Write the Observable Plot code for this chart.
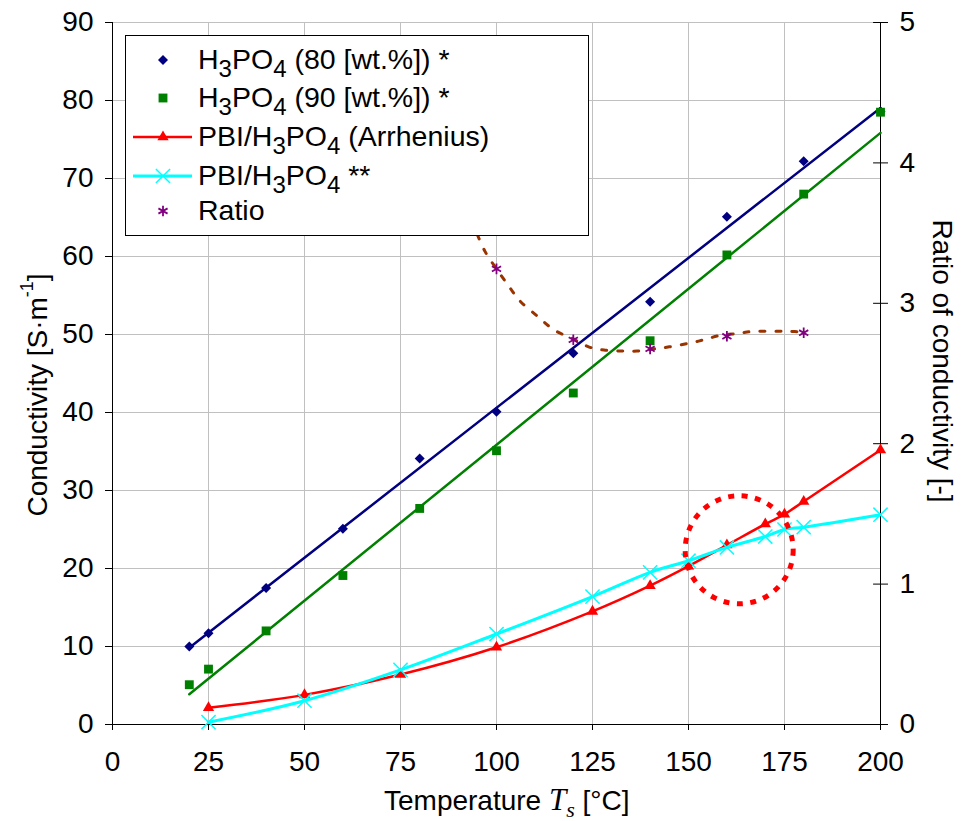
<!DOCTYPE html>
<html><head><meta charset="utf-8">
<script src="https://cdn.jsdelivr.net/npm/d3@7"></script>
<script src="https://cdn.jsdelivr.net/npm/@observablehq/plot@0.6"></script>
<style>body{margin:0;background:#fff;} #chart{width:963px;height:821px;}</style>
</head><body><div id="chart"></div>
<script>
// ---- data ----
const xTicks = [0, 25, 50, 75, 100, 125, 150, 175, 200];
const yTicks = [0, 10, 20, 30, 40, 50, 60, 70, 80, 90];
const ratioTicks = [0, 1, 2, 3, 4, 5];

const tempAcid = [20, 25, 40, 60, 80, 100, 120, 140, 160, 180, 200];
const cond80 = [10, 11.7, 17.5, 25.1, 34.1, 40.1, 47.6, 54.2, 65.1, 72.2, 78.6];
const cond90 = [5.1, 7.1, 12.0, 19.1, 27.7, 35.1, 42.5, 49.2, 60.2, 68.0, 78.5];

const tempPBI = [25, 50, 75, 100, 125, 140, 150, 160, 170, 175, 180, 200];
const condArrhenius = [2.15, 3.8, 6.4, 9.9, 14.5, 17.8, 20.3, 23.0, 25.7, 26.95, 28.6, 35.2];
const condPBI = [0.3, 3.05, 7.0, 11.6, 16.4, 19.5, 21.0, 22.7, 24.1, 25.0, 25.3, 26.9];

const tempRatio = [100, 120, 140, 160, 180];
const ratioValues = [3.245, 2.74, 2.675, 2.765, 2.79];

const trendTemp = [95, 97, 100, 103, 106, 111, 115, 120, 124, 128, 132.5, 136.6, 141, 145, 150, 154, 158, 163, 167, 172, 176, 180];
const trendRatio = [3.49, 3.37, 3.245, 3.13, 3.02, 2.90, 2.81, 2.746, 2.69, 2.667, 2.66, 2.66, 2.675, 2.69, 2.715, 2.74, 2.77, 2.786, 2.80, 2.80, 2.80, 2.795];

const highlight = [{t: 163.2, c: 22.4}];

const legendLabels = [
  ["H", "_3", "PO", "_4", " (80 [wt.%]) *"],
  ["H", "_3", "PO", "_4", " (90 [wt.%]) *"],
  ["PBI/H", "_3", "PO", "_4", " (Arrhenius)"],
  ["PBI/H", "_3", "PO", "_4", " **"],
  ["Ratio"]
];

// ---- build ----
const RATIO_SCALE = 90 / 5;
const acid80 = tempAcid.map((t, i) => ({t, c: cond80[i]}));
const acid90 = tempAcid.map((t, i) => ({t, c: cond90[i]}));
const arr = tempPBI.map((t, i) => ({t, c: condArrhenius[i]}));
const pbi = tempPBI.map((t, i) => ({t, c: condPBI[i]}));
const ratio = tempRatio.map((t, i) => ({t, r: ratioValues[i]}));
const trend = trendTemp.map((t, i) => ({t, r: trendRatio[i]}));

const NAVY = "#000080", GREEN = "#008000", RED = "#ff0000", CYAN = "#00ffff", PURPLE = "#800080", BROWN = "#993300";
const FONT = "'Liberation Sans', Arial, sans-serif";
const R = {dia: 4, sq: 5, tri: 4.2, x: 6.5, ast: 5};

const plot = Plot.plot({
  width: 963, height: 821,
  marginLeft: 112, marginRight: 83, marginTop: 22, marginBottom: 97,
  style: {fontFamily: FONT, fontSize: "28px", color: "black", background: "white"},
  x: {domain: [0, 200], label: null},
  y: {domain: [0, 90], label: null},
  marks: [
    Plot.gridX(xTicks.filter(v => v > 0 && v < 200), {stroke: "#c0c0c0", strokeOpacity: 1}),
    Plot.gridY(yTicks.filter(v => v > 0), {stroke: "#c0c0c0", strokeOpacity: 1}),
    Plot.axisX(xTicks, {tickSize: 6, tickPadding: 21, label: null, fontSize: 28}),
    Plot.axisY(yTicks, {tickSize: 7, tickPadding: 12, label: null, fontSize: 28}),
    Plot.axisY(ratioTicks.map(v => v * RATIO_SCALE), {anchor: "right", tickSize: 7, tickPadding: 12, tickFormat: d => d / RATIO_SCALE, label: null, fontSize: 28}),
    Plot.ruleY(ratioTicks.map(v => v * RATIO_SCALE), {x1: 198.2, x2: 200, stroke: "black"}),
    Plot.ruleX([0, 200], {stroke: "black"}),
    Plot.ruleY([0], {stroke: "black"}),
    Plot.linearRegressionY(acid80, {x: "t", y: "c", stroke: NAVY, strokeWidth: 2.5, ci: 0}),
    Plot.linearRegressionY(acid90, {x: "t", y: "c", stroke: GREEN, strokeWidth: 2.5, ci: 0}),
    Plot.dot(acid80, {x: "t", y: "c", symbol: "square", rotate: 45, r: R.dia, fill: NAVY}),
    Plot.dot(acid90, {x: "t", y: "c", symbol: "square", r: R.sq, fill: GREEN}),
    Plot.line(arr, {x: "t", y: "c", stroke: RED, strokeWidth: 2.5, curve: "catmull-rom"}),
    Plot.dot(arr, {x: "t", y: "c", symbol: "triangle", r: R.tri, fill: RED}),
    Plot.line(pbi, {x: "t", y: "c", stroke: CYAN, strokeWidth: 3, curve: "catmull-rom"}),
    Plot.dot(pbi, {x: "t", y: "c", symbol: "times", r: R.x, stroke: CYAN, strokeWidth: 1.5}),
    Plot.line(trend, {x: "t", y: d => d.r * RATIO_SCALE, stroke: BROWN, strokeWidth: 3, strokeDasharray: "5,11", curve: "catmull-rom"}),
    Plot.dot(ratio, {x: "t", y: d => d.r * RATIO_SCALE, symbol: "asterisk", r: R.ast, stroke: PURPLE, strokeWidth: 1.8}),
    Plot.dot(highlight, {x: "t", y: "c", r: 54, stroke: RED, strokeWidth: 5, strokeDasharray: "6,7.5", fill: "none"})
  ]
});
document.getElementById("chart").appendChild(plot);

// ---- titles & legend ----
const svg = d3.select(plot);

const lt = svg.append("text").attr("transform", "translate(37,395) rotate(-90)")
  .attr("text-anchor", "middle").attr("dominant-baseline", "central")
  .attr("font-family", FONT).attr("font-size", 28).attr("fill", "black");
lt.append("tspan").text("Conductivity [S·m");
lt.append("tspan").attr("font-size", 18).attr("dy", -10).text("-1");
lt.append("tspan").attr("dy", 10).text("]");

svg.append("text").attr("transform", "translate(942,361) rotate(90)")
  .attr("text-anchor", "middle").attr("dominant-baseline", "central")
  .attr("font-family", FONT).attr("font-size", 28).attr("fill", "black")
  .text("Ratio of conductivity [-]");

const bt = svg.append("text").attr("x", 384).attr("y", 810).attr("text-anchor", "start")
  .attr("font-family", FONT).attr("font-size", 28).attr("fill", "black");
bt.append("tspan").text("Temperature ");
bt.append("tspan").attr("font-family", "'Liberation Serif', 'Times New Roman', serif").attr("font-style", "italic").attr("font-size", 31).text("T");
bt.append("tspan").attr("font-family", "'Liberation Serif', 'Times New Roman', serif").attr("font-style", "italic").attr("font-size", 22).attr("dy", 7).text("s");
bt.append("tspan").attr("dy", -7).text(" [°C]");

const lg = svg.append("g");
lg.append("rect").attr("x", 125.5).attr("y", 35.5).attr("width", 463).attr("height", 200)
  .attr("fill", "white").attr("stroke", "black").attr("stroke-width", 1);
const baselines = [69, 107, 146, 185, 220];
const mx = 163;
const sym = (type, r) => d3.symbol(type, Math.PI * r * r)();
baselines.forEach((b, i) => {
  const cy = b - 9;
  if (i === 0) lg.append("path").attr("d", sym(d3.symbolSquare, R.dia)).attr("transform", `translate(${mx},${cy}) rotate(45)`).attr("fill", NAVY);
  if (i === 1) lg.append("path").attr("d", sym(d3.symbolSquare, R.sq)).attr("transform", `translate(${mx},${cy})`).attr("fill", GREEN);
  if (i === 2) {
    lg.append("line").attr("x1", 133).attr("x2", 192).attr("y1", cy).attr("y2", cy).attr("stroke", RED).attr("stroke-width", 2.5);
    lg.append("path").attr("d", sym(d3.symbolTriangle, R.tri)).attr("transform", `translate(${mx},${cy})`).attr("fill", RED);
  }
  if (i === 3) {
    lg.append("line").attr("x1", 133).attr("x2", 192).attr("y1", cy).attr("y2", cy).attr("stroke", CYAN).attr("stroke-width", 3);
    lg.append("path").attr("d", sym(d3.symbolTimes, R.x)).attr("transform", `translate(${mx},${cy})`).attr("fill", "none").attr("stroke", CYAN).attr("stroke-width", 1.5);
  }
  if (i === 4) lg.append("path").attr("d", sym(d3.symbolAsterisk, R.ast)).attr("transform", `translate(${mx},${cy})`).attr("fill", "none").attr("stroke", PURPLE).attr("stroke-width", 1.8);
  const t = lg.append("text").attr("x", 198).attr("y", b).attr("text-anchor", "start")
    .attr("font-family", FONT).attr("font-size", 28.5).attr("fill", "black");
  let shifted = false;
  legendLabels[i].forEach(part => {
    if (part.startsWith("_")) {
      t.append("tspan").attr("font-size", 24).attr("dy", 8).text(part.slice(1));
      shifted = true;
    } else {
      const ts = t.append("tspan").text(part);
      if (shifted) { ts.attr("dy", -8); shifted = false; }
    }
  });
});
</script>
</body></html>
